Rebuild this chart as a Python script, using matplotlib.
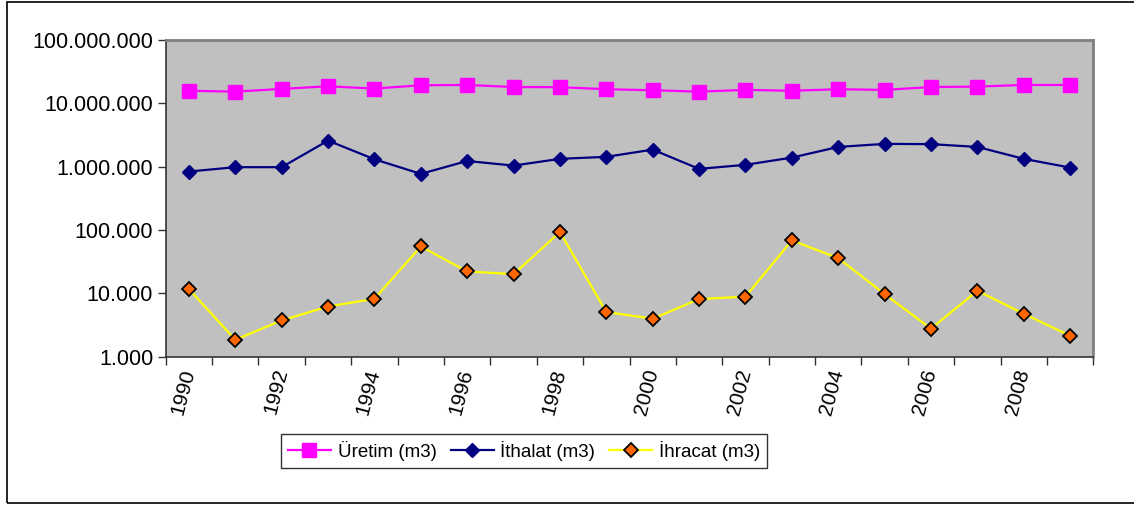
import matplotlib
matplotlib.use("Agg")
import matplotlib.pyplot as plt
from matplotlib.patches import Rectangle
from matplotlib.ticker import FixedLocator, FuncFormatter, NullLocator

plt.rcParams['font.family'] = ['Liberation Sans', 'DejaVu Sans']

# ==========================================
# DATA
# ==========================================
years = list(range(1990, 2010))
uretim = [15.8e6, 15.3e6, 16.9e6, 18.6e6, 17.1e6, 19.3e6, 19.5e6, 18.1e6, 18.0e6, 16.7e6,
          16.1e6, 15.3e6, 16.3e6, 15.8e6, 16.7e6, 16.3e6, 18.1e6, 18.4e6, 19.5e6, 19.5e6]
ithalat = [838e3, 982e3, 982e3, 2.58e6, 1.31e6, 770e3, 1.23e6, 1.04e6, 1.33e6, 1.43e6,
           1.86e6, 923e3, 1.07e6, 1.39e6, 2.05e6, 2.29e6, 2.27e6, 2.05e6, 1.33e6, 968e3]
ihracat = [11.7e3, 1.85e3, 3.74e3, 6.2e3, 8.2e3, 55e3, 22.2e3, 20.1e3, 92.7e3, 5.07e3,
           3.98e3, 8.1e3, 8.9e3, 68.4e3, 36e3, 9.75e3, 2.77e3, 11e3, 4.77e3, 2.14e3]
labels = ['Üretim (m3)', 'İthalat (m3)', 'İhracat (m3)']
y_ticks = [1e3, 1e4, 1e5, 1e6, 1e7, 1e8]

W, H = 1134, 507
fig = plt.figure(figsize=(W / 100, H / 100), dpi=100)
ax = fig.add_axes([165.7 / W, 1 - 356.7 / H, (1093.3 - 165.7) / W, (356.7 - 40) / H])
ax.set_facecolor('#C0C0C0')

x = list(range(len(years)))
ax.plot(x, uretim, color='#FF00FF', lw=1.6, marker='s', ms=10,
        mfc='#FF00FF', mec='#FF00FF', label=labels[0])
ax.plot(x, ithalat, color='#000080', lw=1.6, marker='D', ms=7,
        mfc='#000080', mec='#000080', label=labels[1])
ax.plot(x, ihracat, color='#FFFF00', lw=1.6, marker='D', ms=7.5,
        mfc='#FF6600', mec='black', mew=1.3, label=labels[2])

ax.set_yscale('log')
ax.set_ylim(1e3, 1e8)
ax.yaxis.set_major_locator(FixedLocator(y_ticks))
ax.yaxis.set_minor_locator(NullLocator())
ax.yaxis.set_major_formatter(FuncFormatter(lambda v, p: f"{int(round(v)):,}".replace(',', '.')))

ax.set_xlim(-0.5, len(years) - 0.5)
ax.set_xticks([i - 0.5 for i in range(len(years) + 1)])
ax.set_xticklabels([])
ax.set_xticks(x[::2], minor=True)
ax.set_xticklabels([str(y) for y in years[::2]], minor=True, rotation=75,
                   ha='right', va='center', rotation_mode='anchor')
ax.tick_params(axis='x', which='minor', length=0, pad=9, labelsize=15)
ax.tick_params(axis='x', which='major', length=6, width=1, color='#333333', direction='out')
ax.tick_params(axis='y', which='major', length=6, width=1, color='#333333',
               direction='out', labelsize=15.5, pad=3)

for side in ['left', 'bottom']:
    ax.spines[side].set_color('#333333')
    ax.spines[side].set_linewidth(1.2)
for side in ['top', 'right']:
    ax.spines[side].set_color('#808080')
    ax.spines[side].set_linewidth(2)

leg = fig.legend(loc='center', bbox_to_anchor=(524 / W, 1 - 451 / H), ncol=3,
                 frameon=True, fancybox=False, fontsize=13.5, handlelength=2.3,
                 columnspacing=0.75, handletextpad=0.35, borderpad=0.35)
leg.get_frame().set_edgecolor('black')
leg.get_frame().set_linewidth(1)

fig.patches.append(Rectangle((7 / W, 1 - 503 / H), 1.2, (503 - 2) / H,
                             transform=fig.transFigure, fill=False,
                             edgecolor='black', lw=1.2))

fig.savefig('out.png', dpi=100)
